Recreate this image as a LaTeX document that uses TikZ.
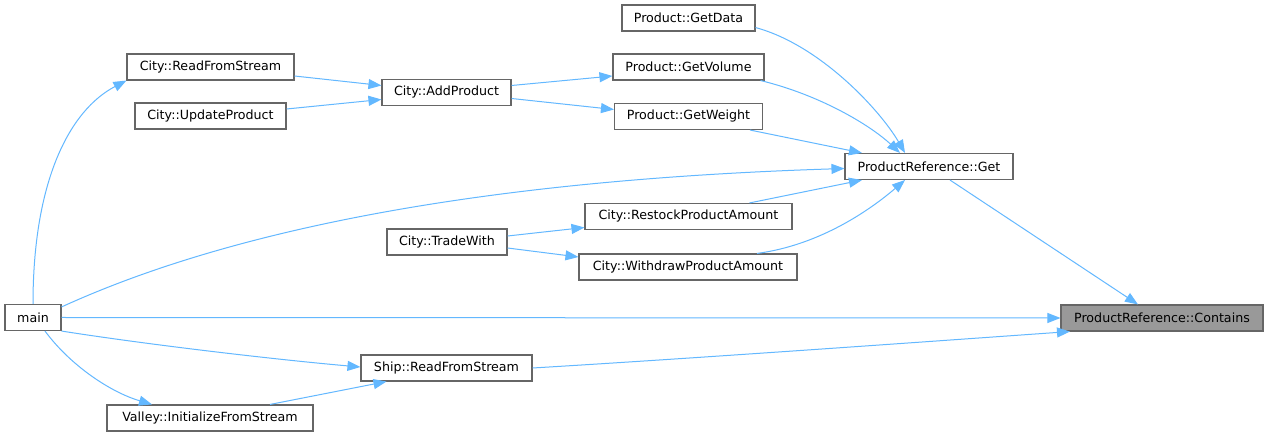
\documentclass[tikz,border=0pt]{standalone}
\usepackage{fontspec}
\setmainfont{DejaVu Sans}
\usetikzlibrary{arrows.meta}
\definecolor{edgeblue}{HTML}{63B8FF}
\definecolor{boxgray}{HTML}{666666}
\definecolor{hlfill}{HTML}{999999}
\begin{document}
\begin{tikzpicture}[x=1bp,y=-1bp,
  fn/.style={draw=boxgray,line width=1.1bp,fill=white,inner sep=0pt,
    minimum height=26bp,font=\fontsize{12.7}{15}\selectfont,text=black},
  cur/.style={fn,fill=hlfill},
  call/.style={draw=edgeblue,line width=1bp,
    -{Triangle[length=13bp,width=10bp,fill=edgeblue]}}]
\useasboundingbox (0,0) rectangle (1269,437);
\fill[white] (0,0) rectangle (1269,437);

% functions, one column per call depth
\node[fn,minimum width=56bp]  (main) at (33,317.5)   {main};
\node[fn,minimum width=167bp] (crs)  at (210.5,67)   {City::ReadFromStream};
\node[fn,minimum width=151bp] (cup)  at (210.5,116)  {City::UpdateProduct};
\node[fn,minimum width=206bp] (vif)  at (210,418)    {Valley::InitializeFromStream};
\node[fn,minimum width=129bp] (cap)  at (446.5,92.5) {City::AddProduct};
\node[fn,minimum width=120bp] (trd)  at (447,242)    {City::TradeWith};
\node[fn,minimum width=171bp] (srs)  at (446.5,368)  {Ship::ReadFromStream};
\node[fn,minimum width=133bp] (pgd)  at (688.5,18)   {Product::GetData};
\node[fn,minimum width=151bp] (pgv)  at (688.5,67)   {Product::GetVolume};
\node[fn,minimum width=148bp] (pgw)  at (688.5,116.5){Product::GetWeight};
\node[fn,minimum width=207bp] (rst)  at (688.5,216.5){City::RestockProductAmount};
\node[fn,minimum width=218bp] (wdr)  at (688,267)    {City::WithdrawProductAmount};
\node[fn,minimum width=168bp] (get)  at (929,166.5)  {ProductReference::Get};
\node[cur,minimum width=202bp](con)  at (1162,318)   {ProductReference::Contains};

% calls into ProductReference::Contains
\draw[call] ([xshift=21bp]get.south) -- ([xshift=-24bp]con.north);
\draw[call] (main.east) -- (con.west);
\draw[call] (srs.east) .. controls (700,358) and (950,340) .. ([xshift=-92bp]con.south);

% calls into ProductReference::Get
\draw[call] ([yshift=4bp]pgd.south east) .. controls (820,45) and (880,110) .. ([xshift=-24bp]get.north);
\draw[call] ([xshift=-4bp]pgv.south east) .. controls (820,95) and (870,125) .. ([xshift=-29bp]get.north);
\draw[call] ([xshift=-13bp]pgw.south east) -- ([xshift=-67bp]get.north);
\draw[call] ([yshift=-3bp]main.north east) .. controls (230,230) and (480,180) .. ([yshift=-2bp]get.west);
\draw[call] ([xshift=61bp]rst.north) -- ([xshift=-67bp]get.south);
\draw[call] ([xshift=69bp]wdr.north) .. controls (820,245) and (870,210) .. ([xshift=-24bp]get.south);

% calls into the Product and City members
\draw[call] ([yshift=7bp]cap.east) -- ([yshift=-9bp]pgv.west);
\draw[call] ([yshift=-6bp]cap.east) -- ([yshift=7bp]pgw.west);
\draw[call] ([yshift=-9bp]crs.east) -- ([yshift=7bp]cap.west);
\draw[call] ([yshift=7bp]cup.east) -- ([yshift=-7bp]cap.west);
\draw[call] (main.north) .. controls (33,180) and (70,110) .. (crs.south west);
\draw[call] ([yshift=6bp]trd.east) -- ([yshift=-11bp]rst.west);
\draw[call] ([yshift=-6bp]trd.east) -- ([yshift=10bp]wdr.west);

% calls into Ship and Valley
\draw[call] (main.south east) .. controls (150,345) and (280,360) .. ([yshift=1bp]srs.west);
\draw[call] ([xshift=12bp]main.south) .. controls (70,365) and (110,392) .. ([xshift=-58bp]vif.north);
\draw[call] ([xshift=60bp]vif.north) -- ([xshift=-60bp]srs.south);
\end{tikzpicture}
\end{document}
